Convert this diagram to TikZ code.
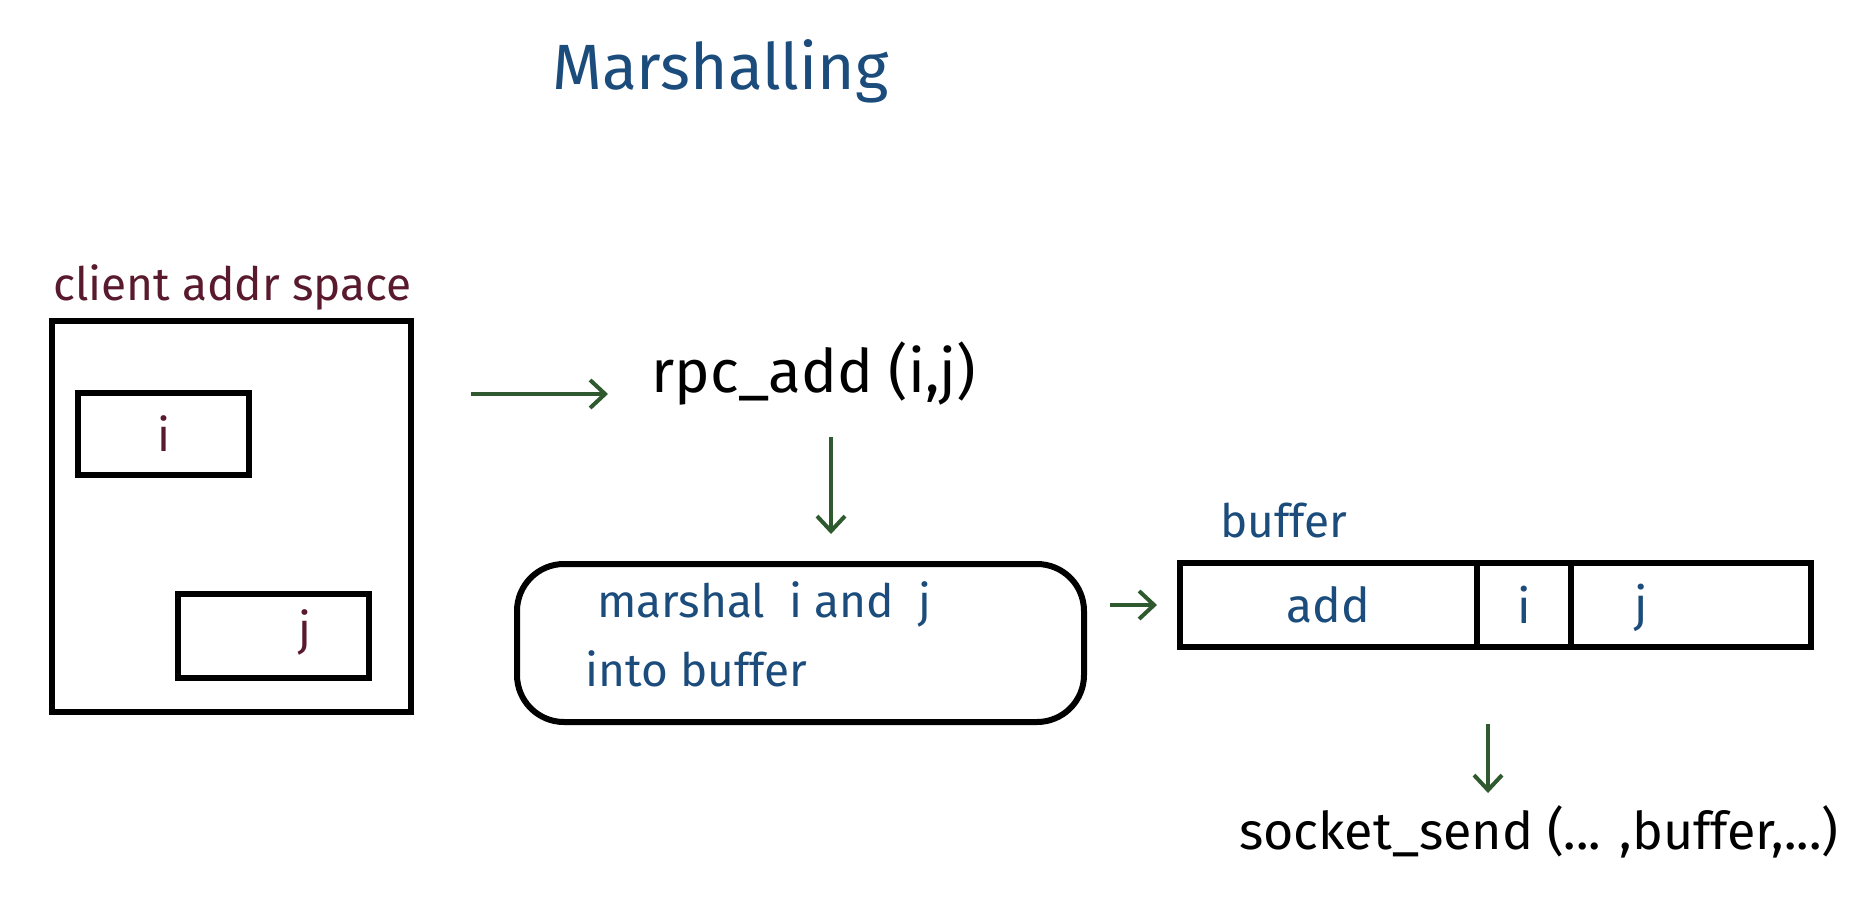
\documentclass[tikz,border=0pt]{standalone}
\usepackage{fontspec}
\setmainfont{Fira Sans}
\usetikzlibrary{arrows.meta}
\definecolor{inkblue}{HTML}{1B4C7C}
\definecolor{inkmaroon}{HTML}{5A1A2E}
\definecolor{inkgreen}{HTML}{2F5A2F}
\tikzset{
  box/.style={draw=black, line width=6pt, rectangle, inner sep=0pt},
  arr/.style={draw=inkgreen, line width=4pt, -{Straight Barb[length=15pt,width=28pt,line width=4pt]}},
  fs/.style={font=\fontsize{#1}{#1}\selectfont},
  blue/.style={text=inkblue},
  maroon/.style={text=inkmaroon},
}
\begin{document}
\begin{tikzpicture}[x=1pt,y=-1pt]
\useasboundingbox[fill=white] (0,0) rectangle (1862,908);
% title
\node[fs=64, blue, anchor=base west, inner sep=0pt] (title) at (552,89) {Marshalling};
% client address space
\node[fs=46, maroon, anchor=base west, inner sep=0pt] (clientlbl) at (53,300) {client addr space};
\node[box, minimum width=359pt, minimum height=391pt] (outer) at (231.5,516.5) {};
\node[box, minimum width=171pt, minimum height=82pt, fs=46, maroon] (boxi) at (163.5,434) {i};
\node[box, minimum width=191pt, minimum height=84pt] (boxj) at (273.5,636) {};
\node[fs=46, maroon] (jlbl) at (305,632) {j};
% rpc call
\node[fs=60, anchor=base west, inner sep=0pt] (rpc) at (651,392) {rpc\_add (i,j)};
\coordinate (a1s) at (471,394);
\coordinate (a1e) at (608,394);
\draw[arr] (a1s) -- (a1e);
% marshal box
\node[draw=black, line width=6pt, rounded corners=47pt, minimum width=567pt, minimum height=158pt] (marsh) at (800.5,643) {};
\node[fs=46, blue, anchor=base west, inner sep=0pt] (m1) at (597,617) {marshal\ \ i and\ \ j};
\node[fs=46, blue, anchor=base west, inner sep=0pt] (m2) at (585,686) {into buffer};
\coordinate (a2s) at (831,437);
\draw[arr] (a2s) -- (a2s |- marsh.north) [shorten >=27pt];
% buffer
\node[fs=46, blue, anchor=base west, inner sep=0pt] (buflbl) at (1220,537) {buffer};
\node[box, minimum width=297pt, minimum height=84pt, fs=48, blue] (bufadd) at (1328.5,605) {add};
\node[box, minimum width=94pt, minimum height=84pt, fs=48, blue] (bufi) at (1524,605) {i};
\node[box, minimum width=240pt, minimum height=84pt] (bufj) at (1691,605) {};
\node[fs=48, blue] (bufjlbl) at (1641,608) {j};
\draw[arr, shorten <=23pt, shorten >=20pt] (marsh.east |- bufadd.west) -- (bufadd.west);
% socket send
\coordinate (a4s) at (1488,724);
\node[fs=52, anchor=base west, inner sep=0pt] (sock) at (1239,849) {socket\_send (... ,buffer,...)};
\draw[arr] (a4s) -- (1488,793);
\end{tikzpicture}
\end{document}
